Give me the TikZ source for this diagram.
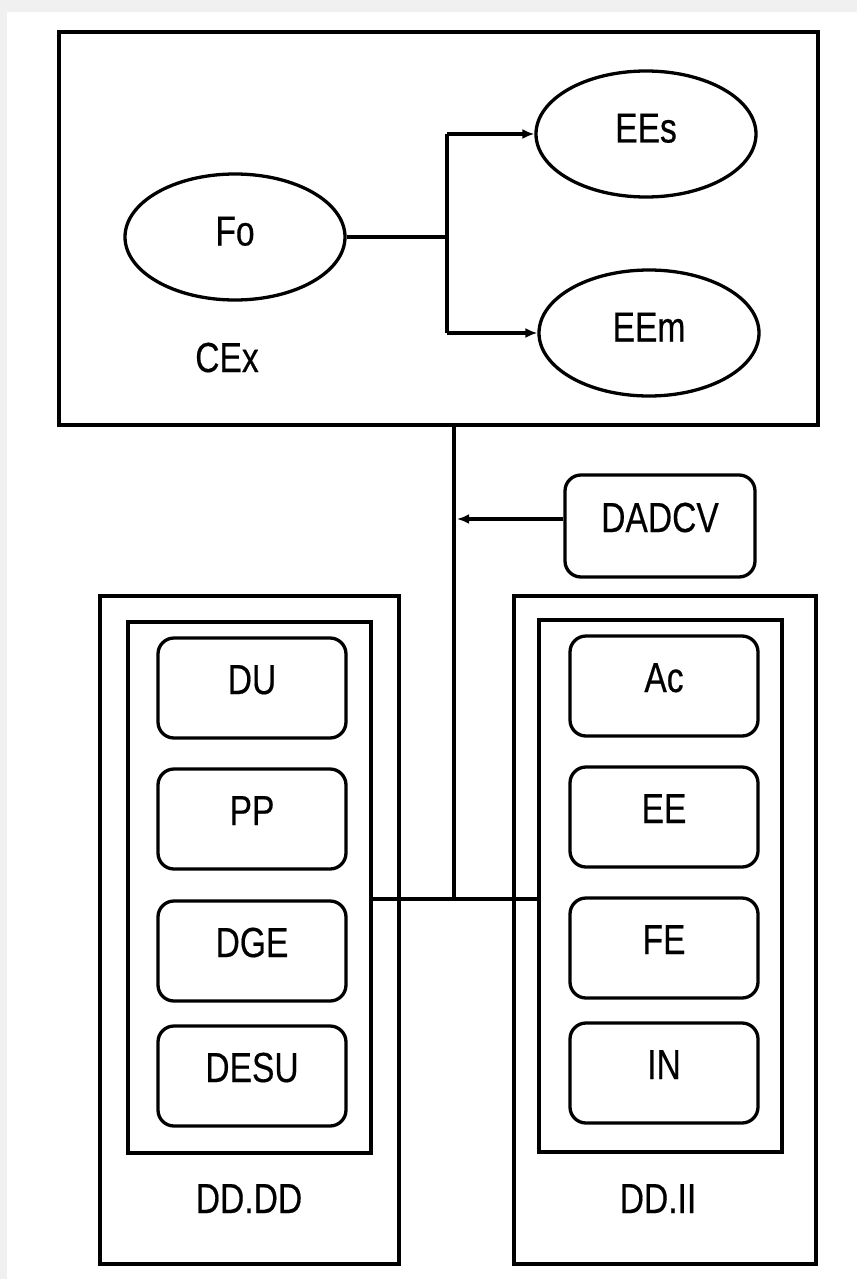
\documentclass[tikz,border=0pt]{standalone}
\usepackage{fontspec}
\setmainfont[FakeStretch=0.8,FakeBold=0.4]{Liberation Sans}
\usetikzlibrary{shapes.geometric,arrows.meta}
\definecolor{bggray}{HTML}{F0F0F0}
\begin{document}
\begin{tikzpicture}[x=1pt,y=-1pt,
  every node/.style={font=\fontsize{42}{46}\selectfont, inner sep=0pt},
  frame/.style={draw, line width=3.3pt, rectangle},
  oval/.style={draw, line width=3.3pt, ellipse, minimum width=220pt, minimum height=126pt, text height=30pt, text depth=13pt},
  item/.style={draw, line width=3.3pt, rectangle, rounded corners=16pt, minimum width=188pt, minimum height=100pt, text height=30pt, text depth=18pt},
  conn/.style={line width=3.3pt},
  arr/.style={line width=3.3pt, -{Latex[length=12pt,width=10pt]}},
  lbl/.style={text height=30pt, text depth=0pt}
]
\useasboundingbox (0,0) rectangle (857,1279);
\fill[bggray] (0,0) rectangle (857,1279);
\fill[white] (7,12) rectangle (857,1279);

% top frame
\node[frame, minimum width=759pt, minimum height=393pt] (cex) at (438.5,228.5) {};
\node[oval] (fo) at (235,237) {Fo};
\node[oval] (ees) at (646,134) {EEs};
\node[oval] (eem) at (649,333) {EEm};
\node[lbl] (cexl) at (227,357) {CEx};
\coordinate (br) at (447,237);
\draw[conn] (fo.east) -- (br);
\draw[conn] (br |- ees.west) -- (br |- eem.west);
\draw[arr] (br |- ees.west) -- (ees.west);
\draw[arr] (br |- eem.west) -- (eem.west);

% DADCV
\node[item, minimum width=190pt, minimum height=102pt] (dadcv) at (660,526) {DADCV};

% left column
\node[frame, minimum width=299pt, minimum height=668pt] (ddout) at (249.5,930) {};
\node[frame, minimum width=243pt, minimum height=531pt] (ddin) at (249.5,887.5) {};
\node[item] (du) at (252,688) {DU};
\node[item] (pp) at (252,819) {PP};
\node[item] (dge) at (252,951) {DGE};
\node[item] (desu) at (252,1076) {DESU};
\node[lbl] (ddl) at (249,1198) {DD.DD};

% right column
\node[frame, minimum width=302pt, minimum height=668pt] (diout) at (665,930) {};
\node[frame, minimum width=243pt, minimum height=532pt] (diin) at (660.5,886) {};
\node[item] (ac) at (664,686) {Ac};
\node[item] (ee) at (664,817) {EE};
\node[item] (fe) at (664,948) {FE};
\node[item] (in) at (664,1073) {IN};
\node[lbl] (dil) at (658,1198) {DD.II};

% trunk
\coordinate (j) at (454,899);
\coordinate (da) at ([yshift=7pt]dadcv.west);
\draw[conn] (j |- cex.south) -- (j);
\draw[conn] (ddin.east |- j) -- (diin.west |- j);
\draw[arr] (da) -- ([xshift=3pt]j |- da);
\end{tikzpicture}
\end{document}
